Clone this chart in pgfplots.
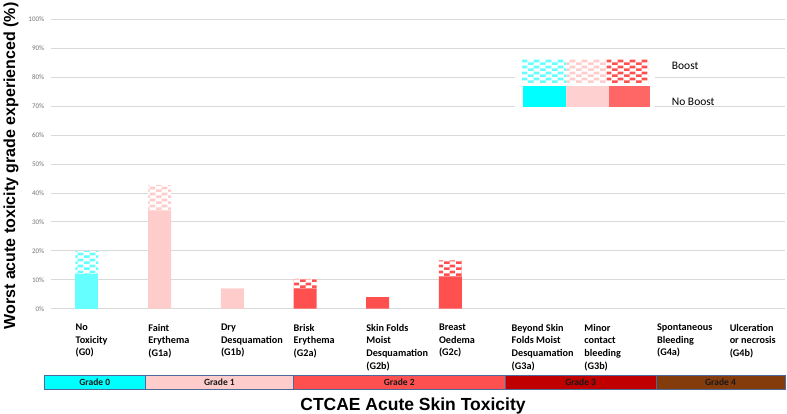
\documentclass[border=0pt]{standalone}
\usepackage{pgfplots}
\pgfplotsset{compat=1.18}
\usepackage{fontspec}
\setmainfont{Carlito}
\newfontfamily\arial{Liberation Sans}
\usetikzlibrary{patterns}

\pgfdeclarepatternformonly{mychecker}{\pgfqpoint{0pt}{0pt}}{\pgfqpoint{12pt}{6pt}}{\pgfqpoint{12pt}{6pt}}{%
 \pgfpathrectangle{\pgfqpoint{0pt}{0pt}}{\pgfqpoint{6pt}{3pt}}%
 \pgfpathrectangle{\pgfqpoint{6pt}{3pt}}{\pgfqpoint{6pt}{3pt}}%
 \pgfusepath{fill}}

\definecolor{cyanbar}{HTML}{66FFFF}
\definecolor{pinkbar}{HTML}{FFCCCC}
\definecolor{redbar}{HTML}{FF5050}
\definecolor{gridc}{HTML}{D9D9D9}
\definecolor{gzero}{HTML}{00FFFF}
\definecolor{gone}{HTML}{FFCCCC}
\definecolor{gtwo}{HTML}{FF5050}
\definecolor{gthree}{HTML}{C00000}
\definecolor{gfour}{HTML}{843C0C}
\definecolor{bandborder}{HTML}{4A6A9A}
\definecolor{legpink}{HTML}{FFD0D0}
\definecolor{legred}{HTML}{FF6666}

\newcommand{\px}[2]{({(#1-50.65)*1pt},{(308.7-#2)*1pt})}

\begin{document}
\begin{tikzpicture}
\begin{axis}[
  at={(0,0)}, anchor=south west,
  width=734pt, height=289.4pt, scale only axis,
  xmin=-0.5, xmax=9.6, ymin=0, ymax=100,
  axis line style={draw=none},
  tick style={draw=none},
  major tick length=0pt,
  ymajorgrids, grid style={gridc, line width=0.8pt},
  ytick={0,10,...,100},
  yticklabel={\pgfmathprintnumber{\tick}\%},
  yticklabel style={font=\fontsize{7}{8}\selectfont, text=black!55, xshift=-3pt},
  /pgf/number format/assume math mode=true,
  xtick={0,...,9},
  xticklabels={{No\\Toxicity\\(G0)},{Faint\\Erythema\\(G1a)},{Dry\\Desquamation\\(G1b)},{Brisk\\Erythema\\(G2a)},{Skin Folds\\Moist\\Desquamation\\(G2b)},{Breast\\Oedema\\(G2c)},{Beyond Skin\\Folds Moist\\Desquamation\\(G3a)},{Minor\\contact\\bleeding\\(G3b)},{Spontaneous\\Bleeding\\(G4a)},{Ulceration\\or necrosis\\(G4b)}},
  xticklabel style={anchor=north west, align=left, inner sep=0pt, font=\bfseries\fontsize{10.2}{12.7}\selectfont, xshift=-11.5pt, yshift=-15pt},
  ybar stacked, bar width=23pt,
  clip=false,
]
% no boost
\addplot[fill=cyanbar, draw=none] coordinates {(0,12) (1,0) (2,0) (3,0) (4,0) (5,0) (6,0) (7,0) (8,0) (9,0)};
\addplot[fill=pinkbar, draw=none] coordinates {(0,0) (1,34) (2,7) (3,0) (4,0) (5,0) (6,0) (7,0) (8,0) (9,0)};
\addplot[fill=redbar, draw=none] coordinates {(0,0) (1,0) (2,0) (3,7) (4,4) (5,11.2) (6,0) (7,0) (8,0) (9,0)};
% boost
\addplot[fill=white, draw=none, postaction={pattern=mychecker, pattern color=cyanbar}] coordinates {(0,7.8) (1,0) (2,0) (3,0) (4,0) (5,0) (6,0) (7,0) (8,0) (9,0)};
\addplot[fill=white, draw=none, postaction={pattern=mychecker, pattern color=pinkbar}] coordinates {(0,0) (1,8.5) (2,0) (3,0) (4,0) (5,0) (6,0) (7,0) (8,0) (9,0)};
\addplot[fill=white, draw=none, postaction={pattern=mychecker, pattern color=redbar}] coordinates {(0,0) (1,0) (2,0) (3,3.3) (4,0) (5,5.5) (6,0) (7,0) (8,0) (9,0)};
\end{axis}

% legend
\fill[white] \px{515}{56} rectangle \px{655}{109};
\fill[pattern=mychecker, pattern color=cyanbar] \px{522}{59} rectangle \px{566.5}{82};
\fill[pattern=mychecker, pattern color=pinkbar] \px{566.5}{59} rectangle \px{607}{82};
\fill[pattern=mychecker, pattern color=redbar] \px{607}{59} rectangle \px{648}{82};
\fill[gzero] \px{523}{86} rectangle \px{566}{106.5};
\fill[legpink] \px{566}{86} rectangle \px{609}{106.5};
\fill[legred] \px{609}{86} rectangle \px{650}{106.5};
\node[anchor=west, inner sep=0pt, font=\fontsize{11.5}{13}\selectfont] at \px{671.7}{66} {Boost};
\node[anchor=west, inner sep=0pt, font=\fontsize{11.5}{13}\selectfont] at \px{671.7}{101.7} {No Boost};

% grade band
\begin{scope}[draw=bandborder, line width=0.7pt]
\filldraw[fill=gzero] \px{44}{375} rectangle \px{145.5}{389};
\filldraw[fill=gone] \px{145.5}{375} rectangle \px{293.3}{389};
\filldraw[fill=gtwo] \px{293.3}{375} rectangle \px{505.3}{389};
\filldraw[fill=gthree] \px{505.3}{375} rectangle \px{656}{389};
\filldraw[fill=gfour] \px{656}{375} rectangle \px{785}{389};
\end{scope}
\begin{scope}[every node/.style={font=\bfseries\fontsize{9.5}{10}\selectfont, text=black!90, inner sep=0pt}]
\node at \px{94.75}{382.5} {Grade 0};
\node at \px{219.4}{382.5} {Grade 1};
\node at \px{399.3}{382.5} {Grade 2};
\node at \px{580.65}{382.5} {Grade 3};
\node at \px{720.5}{382.5} {Grade 4};
\end{scope}

% titles
\node[font=\arial\bfseries\fontsize{17.5}{20}\selectfont, anchor=base] at \px{413}{410} {CTCAE Acute Skin Toxicity};
\node[font=\arial\bfseries\fontsize{16}{19}\selectfont, rotate=90, anchor=center] at \px{11}{166} {Worst acute toxicity grade experienced (\%)};

\pgfresetboundingbox
\path \px{0}{0} rectangle \px{787}{413};
\end{tikzpicture}
\end{document}
